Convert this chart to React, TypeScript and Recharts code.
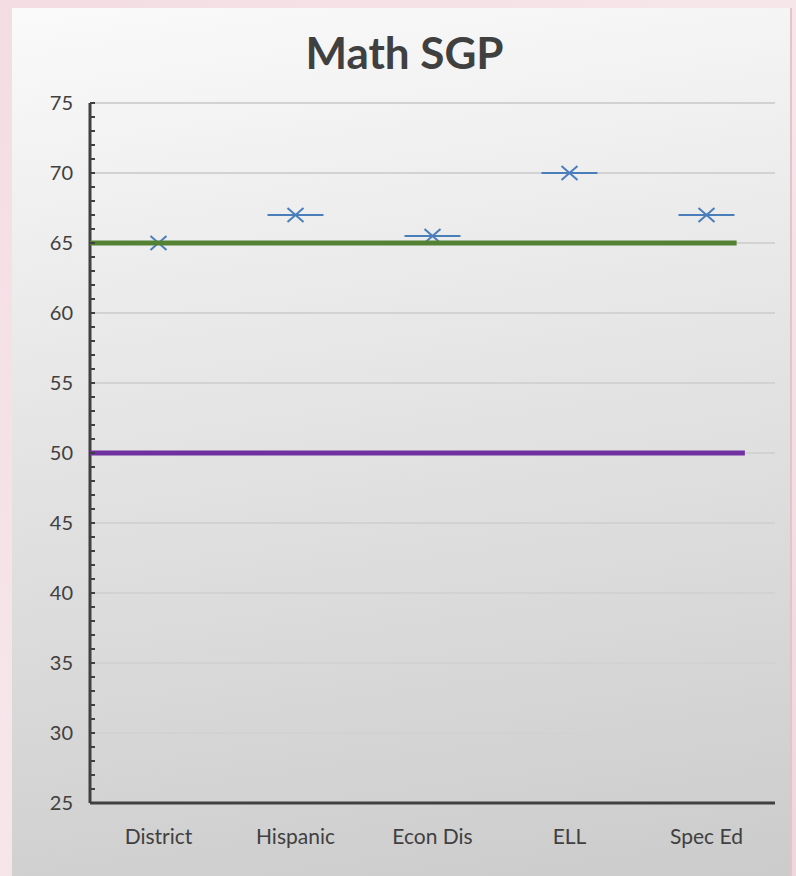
import {
  ComposedChart,
  Line,
  XAxis,
  YAxis,
  CartesianGrid,
} from 'recharts';

// Student growth percentile by group
const categories = ['District', 'Hispanic', 'Econ Dis', 'ELL', 'Spec Ed'];
const sgpValues = [65, 67, 65.5, 70, 67];

// Benchmark lines (value, where the line stops on the category scale 0..5)
const benchmarkValues = [65, 50];
const benchmarkEnds = [4.72, 4.78];
const benchmarkColors = ['#548235', '#7030a0'];

const yMajorTicks = [25, 30, 35, 40, 45, 50, 55, 60, 65, 70, 75];
const yMinorTicks = Array.from({ length: 51 }, (_, i) => 25 + i);

// categories sit in the middle of their slot on a 0..5 scale
const catCenters = categories.map((_, i) => i + 0.5);
const chartData = categories.map((name, i) => ({ name, pos: catCenters[i], sgp: sgpValues[i] }));

const benchmarkData = benchmarkValues.map((v, i) => [
  { pos: 0, level: v },
  { pos: benchmarkEnds[i], level: v },
]);

const FONT = 'Lato, "Open Sans", sans-serif';
const TEXT = '#404040';
const MARKER = '#4a7ebb';

// Excel-like "x" marker with a horizontal dash through it
const XDash = (props: any) => {
  const { cx, cy } = props;
  if (cx == null || cy == null) return null;
  return (
    <g>
      <line x1={cx - 28} y1={cy} x2={cx + 28} y2={cy} stroke={MARKER} strokeWidth={2} />
      <line x1={cx - 8} y1={cy - 7} x2={cx + 8} y2={cy + 7} stroke={MARKER} strokeWidth={2} />
      <line x1={cx - 8} y1={cy + 7} x2={cx + 8} y2={cy - 7} stroke={MARKER} strokeWidth={2} />
    </g>
  );
};

// minor tick every unit (inside the plot), label every 5
const YTick = (props: any) => {
  const { x, y, payload } = props;
  const v = payload.value;
  return (
    <g>
      <line x1={x} y1={y} x2={x + 5} y2={y} stroke={TEXT} strokeWidth={2} />
      {yMajorTicks.includes(v) && (
        <text x={x - 17} y={y} dy="0.35em" textAnchor="end" fill={TEXT} fontSize={20} fontFamily={FONT}>
          {v}
        </text>
      )}
    </g>
  );
};

export default function App() {
  return (
    <div
      style={{
        position: 'absolute',
        left: 0,
        top: 0,
        width: 796,
        height: 876,
        overflow: 'hidden',
        background: 'linear-gradient(135deg, #f3dde3 0%, #f6e6ea 50%, #eed7dd 100%)',
        fontFamily: FONT,
      }}
    >
      <div
        style={{
          position: 'absolute',
          left: 12,
          top: 8,
          width: 778,
          height: 880,
          background: 'linear-gradient(172deg, #fafafa 0%, #e4e4e4 45%, #cbcbcb 100%)',
          borderRight: '2px solid #e2c5cc',
        }}
      >
        <div
          style={{
            position: 'absolute',
            left: 0,
            top: 18,
            width: 785,
            textAlign: 'center',
            fontSize: 44,
            fontWeight: 700,
            color: TEXT,
            lineHeight: '52px',
          }}
        >
          Math SGP
        </div>
        <ComposedChart
          width={778}
          height={868}
          data={chartData}
          margin={{ top: 95, right: 15, left: 0, bottom: 33 }}
        >
          <CartesianGrid
            vertical={false}
            stroke="#d2d2d2"
            strokeWidth={2}
            horizontalValues={yMajorTicks}
          />
          <XAxis
            dataKey="pos"
            type="number"
            domain={[0, 5]}
            ticks={catCenters}
            interval={0}
            tickFormatter={(v: number) => categories[Math.floor(v)]}
            tickLine={false}
            axisLine={{ stroke: TEXT, strokeWidth: 3 }}
            tick={{ fill: TEXT, fontSize: 21, fontFamily: FONT }}
            tickMargin={20}
            height={40}
          />
          <YAxis
            type="number"
            domain={[25, 75]}
            ticks={yMinorTicks}
            interval={0}
            tickLine={false}
            tickSize={0}
            tickMargin={0}
            axisLine={{ stroke: TEXT, strokeWidth: 3 }}
            tick={<YTick />}
            width={78}
          />
          <Line
            dataKey="sgp"
            stroke="none"
            dot={<XDash />}
            activeDot={false}
            isAnimationActive={false}
          />
          {benchmarkData.map((d, i) => (
            <Line
              key={`bench-${i}`}
              data={d}
              dataKey="level"
              stroke={benchmarkColors[i]}
              strokeWidth={5}
              dot={false}
              activeDot={false}
              isAnimationActive={false}
              zIndex={900}
            />
          ))}
        </ComposedChart>
      </div>
    </div>
  );
}
